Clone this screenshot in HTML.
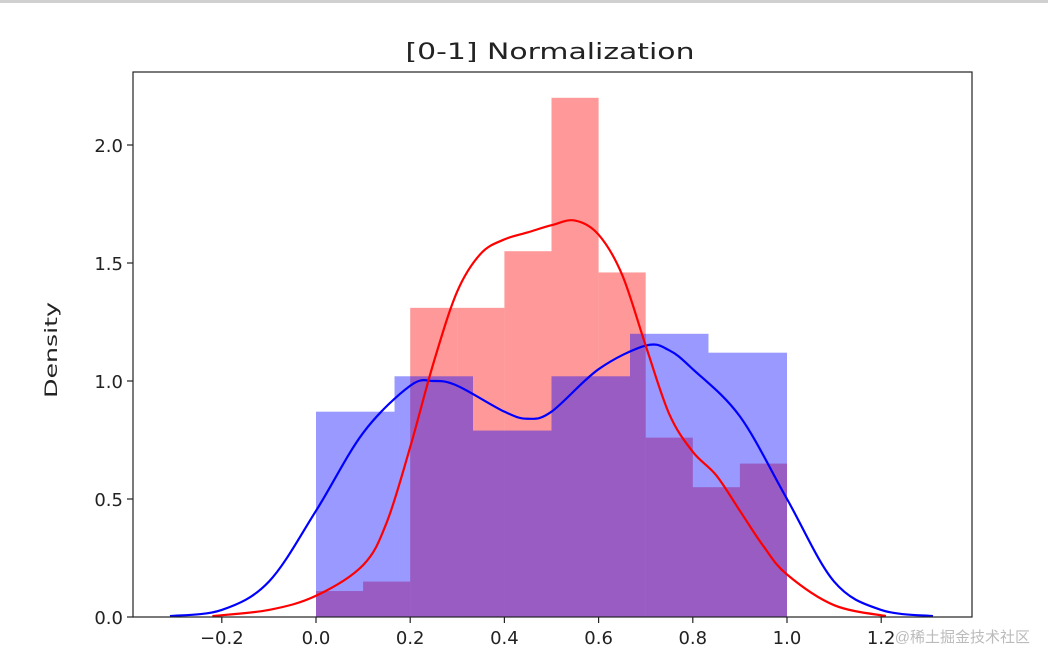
<!DOCTYPE html>
<html><head><meta charset="utf-8"><style>
html,body{margin:0;padding:0;background:#fff;}
svg{display:block;font-family:"DejaVu Sans","Liberation Sans",sans-serif;}
</style></head><body>
<svg id="chart" width="1048" height="668">
<rect x="0" y="0" width="1048" height="3" fill="#d0d0d0"/>
<text x="550" y="59" font-size="22" text-anchor="middle" fill="#222" textLength="289" lengthAdjust="spacingAndGlyphs">[0-1] Normalization</text>
<text transform="translate(57,350) rotate(-90)" font-size="17" text-anchor="middle" fill="#222" textLength="96" lengthAdjust="spacingAndGlyphs">Density</text>
<g id="bars"></g><g id="lines"></g><g id="axes"></g>
<text x="1030" y="642" font-size="15" text-anchor="end" fill="#bbb" font-family="'Liberation Sans','Noto Sans CJK SC',sans-serif">@稀土掘金技术社区</text>
</svg>
<script>
const redBinEdges=[0,0.1,0.2,0.3,0.4,0.5,0.6,0.7,0.8,0.9,1.0];
const redHeights=[0.11,0.15,1.31,1.31,1.55,2.2,1.46,0.76,0.55,0.65];
const blueBinEdges=[0,0.1667,0.3333,0.5,0.6667,0.8333,1.0];
const blueHeights=[0.87,1.02,0.79,1.02,1.2,1.12];
const blueKdeX=[-0.31,-0.2,-0.1,0,0.1,0.2,0.25,0.3,0.4,0.45,0.5,0.6,0.7,0.75,0.8,0.9,1.0,1.1,1.2,1.31];
const blueKdeY=[0.004,0.03,0.15,0.45,0.78,0.98,1.0,0.98,0.87,0.84,0.87,1.05,1.15,1.13,1.05,0.85,0.5,0.15,0.03,0.004];
const redKdeX=[-0.22,-0.1,0,0.1,0.15,0.2,0.25,0.3,0.35,0.4,0.45,0.5,0.55,0.6,0.65,0.7,0.75,0.8,0.85,0.9,0.95,1.0,1.1,1.21];
const redKdeY=[0.004,0.03,0.09,0.22,0.4,0.72,1.08,1.38,1.54,1.6,1.63,1.66,1.68,1.62,1.45,1.15,0.86,0.7,0.6,0.45,0.3,0.18,0.05,0.004];
const xTicks=[-0.2,0,0.2,0.4,0.6,0.8,1.0,1.2];
const xTickLabels=["−0.2","0.0","0.2","0.4","0.6","0.8","1.0","1.2"];
const yTicks=[0,0.5,1.0,1.5,2.0];
const yTickLabels=["0.0","0.5","1.0","1.5","2.0"];
const L=133,R=972,T=72,B=617;
const sx=v=>316+v*471;
const sy=v=>B-v*236;
const NS="http://www.w3.org/2000/svg";
function mk(tag,attrs,parent){const e=document.createElementNS(NS,tag);for(const k in attrs)e.setAttribute(k,attrs[k]);parent.appendChild(e);return e;}
const bars=document.getElementById('bars'),lines=document.getElementById('lines'),axes=document.getElementById('axes');
redHeights.forEach((h,i)=>{const r=mk('rect',{x:sx(redBinEdges[i]),y:sy(h),width:sx(redBinEdges[i+1])-sx(redBinEdges[i]),height:B-sy(h),fill:'rgb(255,0,0)','fill-opacity':0.4},bars);

});
blueHeights.forEach((h,i)=>{const r=mk('rect',{x:sx(blueBinEdges[i]),y:sy(h),width:sx(blueBinEdges[i+1])-sx(blueBinEdges[i]),height:B-sy(h),fill:'rgb(0,0,255)','fill-opacity':0.4},bars);

});
function spline(xs,ys){const p=xs.map((x,i)=>[sx(x),sy(ys[i])]);let d='M'+p[0][0]+','+p[0][1];
for(let i=0;i<p.length-1;i++){const p0=p[i-1]||p[i],p1=p[i],p2=p[i+1],p3=p[i+2]||p2;
const c1=[p1[0]+(p2[0]-p0[0])/6,p1[1]+(p2[1]-p0[1])/6],c2=[p2[0]-(p3[0]-p1[0])/6,p2[1]-(p3[1]-p1[1])/6];
d+=` C${c1[0]},${c1[1]} ${c2[0]},${c2[1]} ${p2[0]},${p2[1]}`;}return d;}
const bl=mk('path',{d:spline(blueKdeX,blueKdeY),fill:'none',stroke:'#0000ff','stroke-width':2.2},lines);


const rl=mk('path',{d:spline(redKdeX,redKdeY),fill:'none',stroke:'#ff0000','stroke-width':2.2},lines);


const fr=mk('rect',{x:L,y:T,width:R-L,height:B-T,fill:'none',stroke:'#222','stroke-width':1.2},axes);


xTicks.forEach((v,i)=>{mk('line',{x1:sx(v),x2:sx(v),y1:B,y2:B+6,stroke:'#222','stroke-width':1.2},axes);
const t=mk('text',{x:sx(v),y:B+27,'font-size':18,'text-anchor':'middle',fill:'#222'},axes);t.textContent=xTickLabels[i];

});
yTicks.forEach((v,i)=>{mk('line',{x1:L-6,x2:L,y1:sy(v),y2:sy(v),stroke:'#222','stroke-width':1.2},axes);
const t=mk('text',{x:L-10,y:sy(v)+7,'font-size':18,'text-anchor':'end',fill:'#222'},axes);t.textContent=yTickLabels[i];

});
</script>
</body></html>
